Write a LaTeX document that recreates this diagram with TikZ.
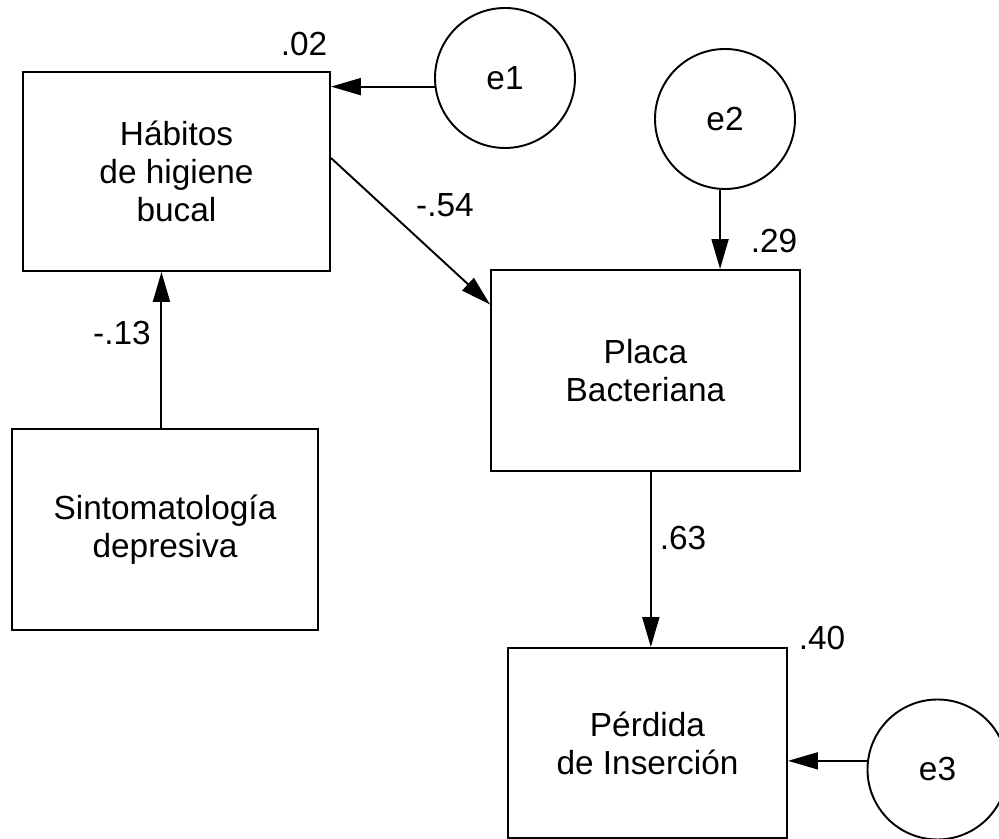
\documentclass[tikz,border=0pt]{standalone}
\usepackage{fontspec}
\setmainfont{Liberation Sans}
\usepackage{tikz}
\usetikzlibrary{arrows.meta,positioning}

\begin{document}
\begin{tikzpicture}[>={Triangle[length=0.6cm,width=0.34cm]}, line join=miter,
		every node/.style={font=\fontsize{19}{21.6}\selectfont},
		obs/.style={draw, line width=1.1pt, rectangle, align=center, inner sep=0pt},
		err/.style={draw, line width=1.1pt, circle, minimum size=2.8cm, inner sep=0pt},
		path/.style={->, line width=1.1pt},
		coef/.style={inner sep=0pt}]
		\useasboundingbox (0,0) rectangle (19.98,16.78);
		\clip (0,0) rectangle (19.98,16.78);
		
		% observed variables
		\node[obs, minimum width=6.14cm, minimum height=3.98cm] (habitos) at (3.53,13.35) {H\'abitos\\de higiene\\bucal};
		\node[obs, minimum width=6.12cm, minimum height=4.02cm] (sintomas) at (3.30,6.19) {Sintomatolog\'ia\\depresiva};
		\node[obs, minimum width=6.18cm, minimum height=4.02cm] (placa) at (12.91,9.37) {Placa\\Bacteriana};
		\node[obs, minimum width=5.58cm, minimum height=3.80cm] (perdida) at (12.95,1.92) {P\'erdida\\de Inserci\'on};
		
		% error terms
		\node[err] (e1) at (10.10,15.22) {e1};
		\node[err] (e2) at (14.50,14.40) {e2};
		\node[err] (e3) at (18.75,1.39) {e3};
		
		% paths
		\draw[path] (e1.187) -- (e1.187 -| habitos.east);
		\draw[path] (habitos.5) -- (placa.157);
		\draw[path] (e2.266) -- (e2.266 |- placa.north);
		\draw[path] (sintomas.92) -- (sintomas.92 |- habitos.south);
		\draw[path] (placa.273) -- (placa.273 |- perdida.north);
		\draw[path] (e3.173) -- (e3.173 -| perdida.east);
		
		% estimates
		\node[coef] (r1) at (6.08,15.90) {.02};
		\node[coef] (b1) at (8.90,12.68) {-.54};
		\node[coef] (r2) at (15.48,11.96) {.29};
		\node[coef] (b2) at (2.44,10.12) {-.13};
		\node[coef] (b3) at (13.66,6.02) {.63};
		\node[coef] (r3) at (16.44,4.02) {.40};
	\end{tikzpicture}
\end{document}
